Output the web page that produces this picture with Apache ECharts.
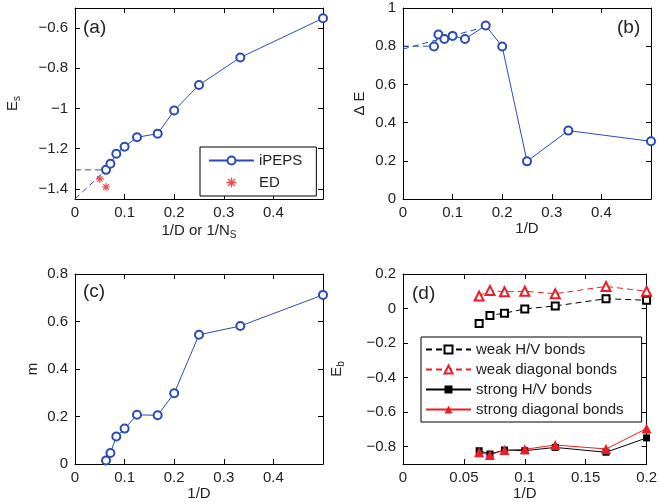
<!DOCTYPE html>
<html>
<head>
<meta charset="utf-8">
<script src="https://cdn.jsdelivr.net/npm/echarts@6/dist/echarts.min.js"></script>
<style>
  html, body { margin: 0; padding: 0; background: #fff; }
  #chart { width: 660px; height: 502px; }
</style>
</head>
<body>
<div id="chart"></div>
<script>
// 1/D values (D = 16, 14, 12, 10, 8, 6, 5, 4, 3, 2)
const invD = [0.0625, 0.0714, 0.0833, 0.1, 0.125, 0.1667, 0.2, 0.25, 0.3333, 0.5]
const invDSmall = [0.0625, 0.0714, 0.0833, 0.1, 0.125, 0.1667, 0.2]

// (a) energy per site
const esIPEPS = [-1.305, -1.275, -1.225, -1.19, -1.143, -1.125, -1.01, -0.883, -0.746, -0.551]
const edX = [0.05, 0.0625]
const edY = [-1.35, -1.39]
const esFitX = [0, 0.0625]
const esFitY = [-1.45, -1.305]
const esLevelX = [0, 0.055]
const esLevelY = [-1.305, -1.305]

// (b) gap
const gap = [0.798, 0.861, 0.838, 0.854, 0.838, 0.908, 0.798, 0.197, 0.358, 0.302]
const gapFitX = [0, 0.15]
const gapFitY = [0.785, 0.89]
const gapLevelX = [0, 0.06]
const gapLevelY = [0.8, 0.8]

// (c) magnetization
const mag = [0.015, 0.046, 0.116, 0.149, 0.207, 0.205, 0.298, 0.544, 0.581, 0.712]

// (d) bond energies
const weakHV = [-0.086, -0.04, -0.027, -0.002, 0.015, 0.057, 0.048]
const weakDiag = [0.072, 0.105, 0.097, 0.1, 0.086, 0.128, 0.1]
const strongHV = [-0.823, -0.842, -0.819, -0.823, -0.804, -0.832, -0.749]
const strongDiag = [-0.832, -0.848, -0.819, -0.815, -0.79, -0.813, -0.695]

// tick labels
const xTicksWide = [0, 0.1, 0.2, 0.3, 0.4]
const xTicksD = [0, 0.05, 0.1, 0.15, 0.2]
const yTicksA = [-1.4, -1.2, -1, -0.8, -0.6]
const yTicksB = [0, 0.2, 0.4, 0.6, 0.8, 1]
const yTicksC = [0, 0.2, 0.4, 0.6, 0.8]
const yTicksD = [-0.8, -0.6, -0.4, -0.2, 0, 0.2]

const BLUE = '#2a4bb5'
const RED = '#ee1c24'
const FONT = 'Liberation Sans'
const ASTERISK = 'path://M0,4.3L10,4.3L10,5.7L0,5.7Z M4.3,0L5.7,0L5.7,10L4.3,10Z M1,2L2,1L9,8L8,9Z M8,1L9,2L2,9L1,8Z'

const pair = (xs, ys) => xs.map((x, i) => [x, ys[i]])
const fmt = v => String(+v.toFixed(2)).replace('-', '\u2212')

const rich = {
  n: { fontSize: 15, fontFamily: FONT, color: '#222' },
  sub: { fontSize: 10, fontFamily: FONT, color: '#222', padding: [9, 0, 0, 0] }
}

const grids = [
  { left: 75, top: 8, width: 248, height: 191 },
  { left: 403, top: 8, width: 248, height: 191 },
  { left: 75, top: 274, width: 248, height: 190 },
  { left: 403, top: 274, width: 247, height: 190 }
]

const makeAxis = (dim, gridIndex, min, max, ticks, position, name, nameGap) => {
  const main = position === 'bottom' || position === 'left'
  return {
    type: 'value',
    gridIndex,
    position,
    min,
    max,
    name: main ? name : '',
    nameLocation: 'middle',
    nameGap,
    nameRotate: dim === 'y' ? 90 : 0,
    nameTextStyle: { rich },
    axisLine: { show: true, onZero: false, lineStyle: { color: '#000', width: 1 } },
    axisTick: { show: true, inside: true, length: 5, customValues: ticks, lineStyle: { color: '#000' } },
    axisLabel: {
      show: main,
      customValues: ticks,
      formatter: fmt,
      fontSize: 15,
      fontFamily: FONT,
      color: '#222',
      margin: dim === 'y' ? 7 : 6
    },
    splitLine: { show: false }
  }
}

const xAxis = [
  makeAxis('x', 0, 0, 0.5, xTicksWide, 'bottom', '{n|1/D or 1/N}{sub|S}', 22),
  makeAxis('x', 1, 0, 0.5, xTicksWide, 'bottom', '{n|1/D}', 22),
  makeAxis('x', 2, 0, 0.5, xTicksWide, 'bottom', '{n|1/D}', 22),
  makeAxis('x', 3, 0, 0.2, xTicksD, 'bottom', '{n|1/D}', 22),
  makeAxis('x', 0, 0, 0.5, xTicksWide, 'top'),
  makeAxis('x', 1, 0, 0.5, xTicksWide, 'top'),
  makeAxis('x', 2, 0, 0.5, xTicksWide, 'top'),
  makeAxis('x', 3, 0, 0.2, xTicksD, 'top')
]

const yAxis = [
  makeAxis('y', 0, -1.45, -0.5, yTicksA, 'left', '{n|E}{sub|s}', 53),
  makeAxis('y', 1, 0, 1, yTicksB, 'left', '{n|\u0394 E}', 36),
  makeAxis('y', 2, 0, 0.8, yTicksC, 'left', '{n|m}', 35),
  makeAxis('y', 3, -0.9, 0.2, yTicksD, 'left', '{n|E}{sub|b}', 57),
  makeAxis('y', 0, -1.45, -0.5, yTicksA, 'right'),
  makeAxis('y', 1, 0, 1, yTicksB, 'right'),
  makeAxis('y', 2, 0, 0.8, yTicksC, 'right'),
  makeAxis('y', 3, -0.9, 0.2, yTicksD, 'right')
]

const lineSeries = (name, idx, data, opts) => Object.assign({
  name,
  type: 'line',
  xAxisIndex: idx,
  yAxisIndex: idx,
  data,
  symbol: 'emptyCircle',
  symbolSize: 8,
  lineStyle: { color: BLUE, width: 1 },
  itemStyle: { color: BLUE, borderColor: BLUE, borderWidth: 1 },
  silent: true,
  animation: false,
  z: 3
}, opts)

const dashed = (idx, data, color) => lineSeries('fit', idx, data, {
  symbol: 'none',
  lineStyle: { color, width: 1, type: [6, 4] },
  z: 2
})

const series = [
  // (a)
  dashed(0, pair(esFitX, esFitY), BLUE),
  dashed(0, pair(esLevelX, esLevelY), BLUE),
  lineSeries('iPEPS', 0, pair(invD, esIPEPS)),
  lineSeries('ED', 0, pair(edX, edY), {
    type: 'scatter',
    symbol: ASTERISK,
    symbolSize: 8,
    itemStyle: { color: RED }
  }),
  // (b)
  dashed(1, pair(gapFitX, gapFitY), BLUE),
  dashed(1, pair(gapLevelX, gapLevelY), BLUE),
  lineSeries('gap', 1, pair(invD, gap)),
  // (c)
  lineSeries('m', 2, pair(invD, mag)),
  // (d)
  lineSeries('weak H/V bonds', 3, pair(invDSmall, weakHV), {
    symbol: 'emptyRect',
    symbolSize: 7,
    lineStyle: { color: '#000', width: 1, type: [6, 4] },
    itemStyle: { color: '#000', borderColor: '#000', borderWidth: 1 }
  }),
  lineSeries('weak diagonal bonds', 3, pair(invDSmall, weakDiag), {
    symbol: 'emptyTriangle',
    symbolSize: 9,
    lineStyle: { color: RED, width: 1, type: [6, 4] },
    itemStyle: { color: RED, borderColor: RED, borderWidth: 1 }
  }),
  lineSeries('strong H/V bonds', 3, pair(invDSmall, strongHV), {
    symbol: 'rect',
    symbolSize: 7,
    lineStyle: { color: '#000', width: 1 },
    itemStyle: { color: '#000' }
  }),
  lineSeries('strong diagonal bonds', 3, pair(invDSmall, strongDiag), {
    symbol: 'triangle',
    symbolSize: 10,
    lineStyle: { color: RED, width: 1 },
    itemStyle: { color: RED }
  })
]

const legendBase = {
  orient: 'vertical',
  backgroundColor: '#fff',
  borderColor: '#000',
  borderWidth: 1,
  borderRadius: 0,
  itemWidth: 45,
  itemHeight: 10,
  textStyle: { fontSize: 15, fontFamily: FONT, color: '#222' },
  selectedMode: false
}

const legend = [
  Object.assign({}, legendBase, {
    left: 200, top: 147, padding: [6, 14, 6, 8], itemGap: 7,
    data: ['iPEPS', 'ED']
  }),
  Object.assign({}, legendBase, {
    left: 421, top: 337, padding: [5, 18, 5, 4], itemGap: 5,
    data: ['weak H/V bonds', 'weak diagonal bonds', 'strong H/V bonds', 'strong diagonal bonds']
  })
]

// panel tags
const tags = [['(a)', 83, 18], ['(b)', 617, 18], ['(c)', 83, 282], ['(d)', 412, 284]]
const graphic = tags.map(t => ({
  type: 'text',
  left: t[1],
  top: t[2],
  style: { text: t[0], fontSize: 19, fontFamily: FONT, fill: '#222' },
  z: 10
}))

const chart = echarts.init(document.getElementById('chart'))
chart.setOption({
  animation: false,
  grid: grids,
  xAxis,
  yAxis,
  legend,
  graphic,
  series
})
</script>
</body>
</html>
